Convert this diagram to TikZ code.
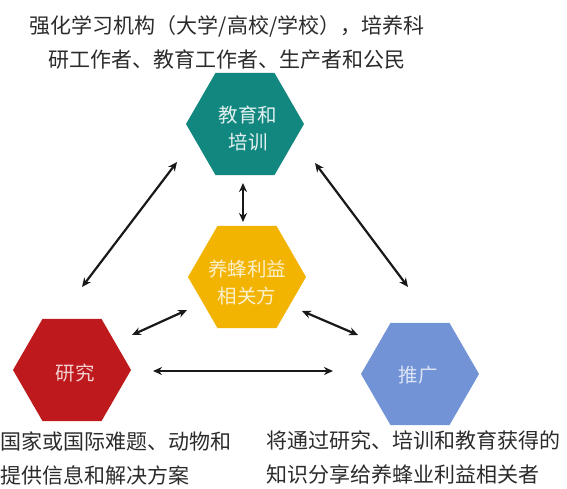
\documentclass[tikz,border=0pt]{standalone}
\usepackage{fontspec}
\setmainfont{Noto Sans CJK SC}
\usetikzlibrary{shapes.geometric,arrows.meta}
\definecolor{tealc}{HTML}{12877F}
\definecolor{yellowc}{HTML}{F2B400}
\definecolor{redc}{HTML}{BE1A1E}
\definecolor{bluec}{HTML}{7294D6}
\definecolor{txt}{HTML}{2B2B2B}
\begin{document}
\begin{tikzpicture}[x=1pt,y=-1pt,
  hex/.style={regular polygon, regular polygon sides=6, minimum size=118pt,
    inner sep=0pt, draw=none},
  hextext/.style={align=center, inner sep=0pt, font=\fontsize{19.5}{27}\selectfont},
  link/.style={{Stealth[length=9pt,width=8pt]}-{Stealth[length=9pt,width=8pt]},
    line width=2.2pt, black!90},
  caption/.style={font=\fontsize{21}{34}\selectfont, text=txt, inner sep=0pt}]
\useasboundingbox (0,0) rectangle (567,489);

\node[hex, fill=tealc] (teal) at (245,124) {};
\node[hex, fill=yellowc] (yellow) at (247,277) {};
\node[hex, fill=redc] (red) at (72,370) {};
\node[hex, fill=bluec] (blue) at (420,374) {};

\node[hextext, text=white!88!tealc] (tealtext) at ([shift={(3,5)}]teal.center) {教育和\\培训};
\node[hextext, text=white!80!yellowc] (yellowtext) at ([shift={(0,6)}]yellow.center) {养蜂利益\\相关方};
\node[hextext, text=white!80!redc] (redtext) at ([shift={(3,3)}]red.center) {研究};
\node[hextext, text=white!75!bluec] (bluetext) at ([shift={(-2,1)}]blue.center) {推广};

\node[caption, align=center] (toptext) at (227,42) {强化学习机构（大学/高校/学校），培养科\\研工作者、教育工作者、生产者和公民};
\node[caption, align=left, anchor=west] (lefttext) at (0,458) {国家或国际难题、动物和\\提供信息和解决方案};
\node[caption, align=left, anchor=west] (righttext) at (266,458) {将通过研究、培训和教育获得的\\知识分享给养蜂业利益相关者};

\draw[link] ([shift={(-2,59)}]teal.center) -- ([shift={(-4,-55)}]yellow.center);
\draw[link] ([shift={(-68,38)}]teal.center) -- ([shift={(10,-83)}]red.center);
\draw[link] ([shift={(70,39)}]teal.center) -- ([shift={(-12,-87)}]blue.center);
\draw[link] ([shift={(-60,33)}]yellow.center) -- ([shift={(60,-35)}]red.center);
\draw[link] ([shift={(55,34)}]yellow.center) -- ([shift={(-62,-39)}]blue.center);
\draw[link] ([shift={(81,1)}]red.center) -- ([shift={(-87,-3)}]blue.center);
\end{tikzpicture}
\end{document}
